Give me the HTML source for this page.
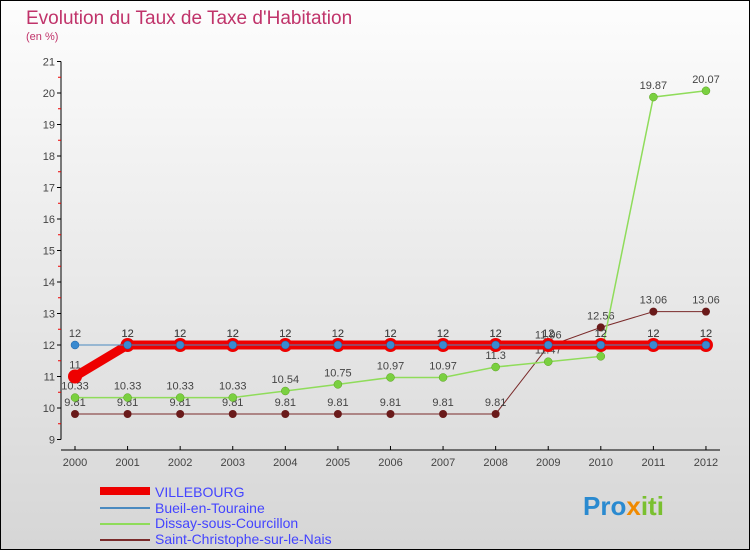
<!DOCTYPE html>
<html><head><meta charset="utf-8"><style>
body{margin:0;width:750px;height:550px;overflow:hidden;font-family:"Liberation Sans",sans-serif}
#wrap{position:absolute;left:0;top:0;width:748px;height:548px;border:1px solid #000;background:linear-gradient(#fdfdfd,#d6d6d6)}
</style></head><body>
<div id="wrap">
<svg id="chart" width="750" height="550" style="position:absolute;left:-1px;top:-1px">
<text x="26" y="24" font-size="19" fill="#c0336a">Evolution du Taux de Taxe d'Habitation</text>
<text x="26" y="40" font-size="11" fill="#c0336a">(en %)</text>
<g id="axes"></g><g id="series"></g>
<g font-size="14">
<rect x="100" y="487" width="50" height="8" fill="#e00"/>
<text x="155" y="497" fill="#44f">VILLEBOURG</text>
<line x1="100" y1="508" x2="150" y2="508" stroke="#4a8ac0" stroke-width="2"/>
<text x="155" y="513" fill="#44f">Bueil-en-Touraine</text>
<line x1="100" y1="524" x2="150" y2="524" stroke="#8fdc5a" stroke-width="2"/>
<text x="155" y="528" fill="#44f">Dissay-sous-Courcillon</text>
<line x1="100" y1="540" x2="150" y2="540" stroke="#7a2a2a" stroke-width="2"/>
<text x="155" y="544" fill="#44f">Saint-Christophe-sur-le-Nais</text>
</g>
<text x="583" y="515" font-size="26" font-weight="bold" fill="#2a8ad0">Pro<tspan fill="#f08a00">x</tspan><tspan fill="#7ac030">iti</tspan></text>
</svg></div>
<script>
const years=[2000,2001,2002,2003,2004,2005,2006,2007,2008,2009,2010,2011,2012];
const yTicks=[9,10,11,12,13,14,15,16,17,18,19,20,21];
const villebourg=[11,12,12,12,12,12,12,12,12,12,12,12,12];
const bueil=[12,12,12,12,12,12,12,12,12,12,12,12,12];
const dissay=[10.33,10.33,10.33,10.33,10.54,10.75,10.97,10.97,11.3,11.47,11.64,19.87,20.07];
const stchris=[9.81,9.81,9.81,9.81,9.81,9.81,9.81,9.81,9.81,11.96,12.56,13.06,13.06];
const NS="http://www.w3.org/2000/svg";
const X=i=>75+i*52.58, Y=v=>345-(v-12)*31.5;
function mk(tag,attrs,parent,txt){const e=document.createElementNS(NS,tag);for(const k in attrs)e.setAttribute(k,attrs[k]);if(txt!==undefined)e.textContent=txt;parent.appendChild(e);return e;}
const ax=document.getElementById('axes'), sr=document.getElementById('series');
let a=mk('line',{x1:61,y1:Y(21),x2:61,y2:Y(9),stroke:'#000','stroke-width':1},ax);

a=mk('line',{x1:61,y1:450,x2:720,y2:450,stroke:'#000','stroke-width':1},ax);

yTicks.forEach(v=>{mk('line',{x1:57,y1:Y(v),x2:61,y2:Y(v),stroke:'#000'},ax);
 if(v<21)mk('line',{x1:58,y1:Y(v+0.5),x2:61,y2:Y(v+0.5),stroke:'#e00'},ax);
 const t=mk('text',{x:55,y:Y(v)+4,'font-size':11,fill:'#444','text-anchor':'end'},ax,v);
 });
years.forEach((y,i)=>{mk('line',{x1:X(i),y1:446,x2:X(i),y2:450,stroke:'#000'},ax);
 const t=mk('text',{x:X(i),y:466,'font-size':11,fill:'#444','text-anchor':'middle'},ax,y);
 });
function series(data,name,color,w,r,fill,stroke,sw){
 const g=mk('g',{},sr);
 const l=mk('polyline',{points:data.map((v,i)=>X(i)+','+Y(v)).join(' '),fill:'none',stroke:color,'stroke-width':w},g);
 
 data.forEach((v,i)=>{const c=mk('circle',{cx:X(i),cy:Y(v),r:r,fill:fill,stroke:stroke,'stroke-width':sw},g);
  
  const t=mk('text',{x:X(i),y:Y(v)-8,'font-size':11,fill:'#444','text-anchor':'middle'},g,v);
  });
}
series(stchris,'saint-christophe','#7a2a2a',1,4,'#6a1a1a','#6a1a1a',0);
series(dissay,'dissay','#8fdc5a',1.5,4,'#7ad040','#5aa020',0.5);
series(villebourg,'villebourg','#e00',9,7,'#e00','#e00',0);
series(bueil,'bueil','#4a8ac0',1,4,'#3a8ad0','#2060a0',0.5);
</script>
</body></html>
